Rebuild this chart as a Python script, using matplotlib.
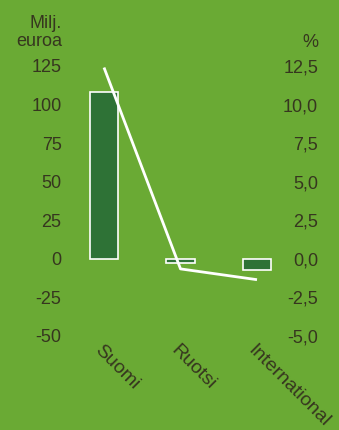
import matplotlib
matplotlib.use("Agg")
import matplotlib.pyplot as plt
from matplotlib.transforms import ScaledTranslation

categories = ["Suomi", "Ruotsi", "International"]
bar_values = [108, -3, -7]          # Milj. euroa
line_values = [12.4, -0.65, -1.35]  # %
left_ticks = [-50, -25, 0, 25, 50, 75, 100, 125]
right_ticks = [-5.0, -2.5, 0.0, 2.5, 5.0, 7.5, 10.0, 12.5]

BG = "#6aaa34"
BAR = "#2e7236"
TXT = "#36361f"
FS = 13

plt.rcParams['font.family'] = ['Liberation Sans', 'DejaVu Sans']
fig = plt.figure(figsize=(3.39, 4.30), dpi=100, facecolor=BG)
W, H = 339, 430
ax = fig.add_axes([65.75 / W, (430 - 336) / H, (295.25 - 65.75) / W, (336 - 66) / H])
ax.set_facecolor(BG)
ax2 = ax.twinx()

x = list(range(len(categories)))
ax.bar(x, bar_values, width=0.37, color=BAR, edgecolor="white", linewidth=1.2, zorder=2)
ax2.plot(x, line_values, color="white", linewidth=2.0, zorder=3, solid_capstyle="butt")

ax.set_xlim(-0.5, 2.5)
ax.set_ylim(-50, 125)
ax2.set_ylim(-5, 12.5)
ax.set_yticks(left_ticks)
ax.set_yticklabels([str(v) for v in left_ticks])
ax2.set_yticks(right_ticks)
ax2.set_yticklabels([f"{v:.1f}".replace(".", ",") for v in right_ticks])

for a in (ax, ax2):
    for s in a.spines.values():
        s.set_visible(False)
    a.tick_params(length=0, colors=TXT, labelsize=FS)

ax.tick_params(axis="y", pad=3)
ax2.tick_params(axis="y", pad=16.5)
for lab in ax2.get_yticklabels():
    lab.set_horizontalalignment("right")

ax.set_xticks(x)
ax.set_xticklabels(categories, rotation=-45, ha="left", va="top", fontsize=14, color=TXT)
ax.tick_params(axis="x", pad=4)
for lab in ax.get_xticklabels():
    lab.set_transform(lab.get_transform() + ScaledTranslation(-13 / 100, 0, fig.dpi_scale_trans))

fig.text(62 / W, 1 - 15 / H, "Milj.\neuroa", ha="right", va="top", fontsize=FS, color=TXT, linespacing=1.1)
fig.text(318 / W, 1 - 34 / H, "%", ha="right", va="top", fontsize=FS, color=TXT)

fig.savefig("out.png", dpi=100, facecolor=BG)
